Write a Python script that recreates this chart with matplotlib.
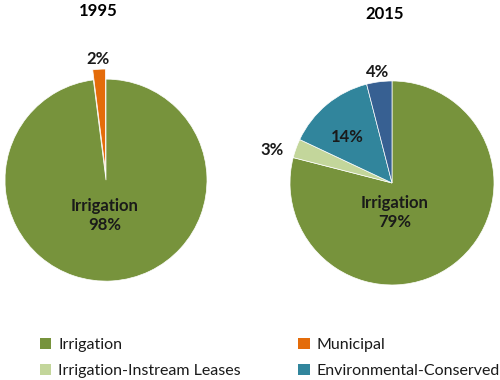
import matplotlib.pyplot as plt
from matplotlib.patches import Patch

plt.rcParams['font.family'] = ['Lato', 'DejaVu Sans']

# data
labels_1995 = ['Irrigation', 'Municipal']
values_1995 = [98, 2]
labels_2015 = ['Irrigation', 'Irrigation-Instream Leases', 'Environmental-Conserved', 'Municipal']
values_2015 = [79, 3, 14, 4]

colors = {
    'Irrigation': '#77933C',
    'Municipal': '#E46C0A',
    'Irrigation-Instream Leases': '#C3D69B',
    'Environmental-Conserved': '#31859C',
}
color_2015_small = '#376092'

fig = plt.figure(figsize=(5, 3.8), dpi=100)

# 1995 pie
ax1 = fig.add_axes([0.01, 0.26, 0.404, 0.532])
w1, _ = ax1.pie(values_1995, colors=[colors[l] for l in labels_1995],
                startangle=90, counterclock=False, explode=[0, 0.1],
                wedgeprops=dict(edgecolor='white', linewidth=0.5))
ax1.set_xlim(-1, 1)
ax1.set_ylim(-1, 1)
ax1.set_aspect('equal')
ax1.axis('off')
ax1.text(-0.01, -0.35, 'Irrigation\n%d%%' % values_1995[0], ha='center', va='center',
         fontsize=12, fontweight='bold', color='#1a1a1a', linespacing=1.25)
ax1.text(-0.08, 1.2, '%d%%' % values_1995[1], ha='center', va='center',
         fontsize=12, fontweight='bold', color='#1a1a1a')
ax1.text(-0.08, 1.67, '1995', ha='center', va='center', fontsize=12,
         fontweight='bold', clip_on=False)

# 2015 pie
ax2 = fig.add_axes([0.58, 0.25, 0.408, 0.537])
pie_colors = [colors[l] for l in labels_2015[:3]] + [color_2015_small]
w2, _ = ax2.pie(values_2015, colors=pie_colors, startangle=90, counterclock=False,
                wedgeprops=dict(edgecolor='white', linewidth=0.5))
ax2.set_xlim(-1, 1)
ax2.set_ylim(-1, 1)
ax2.set_aspect('equal')
ax2.axis('off')
lab_pos = [(0.03, -0.29), (-1.18, 0.32), (-0.44, 0.45), (-0.14, 1.09)]
for (x, y), v, l in zip(lab_pos, values_2015, labels_2015):
    txt = ('Irrigation\n%d%%' % v) if l == 'Irrigation' else '%d%%' % v
    ax2.text(x, y, txt, ha='center', va='center', fontsize=12,
             fontweight='bold', color='#1a1a1a', linespacing=1.25)
ax2.text(-0.07, 1.66, '2015', ha='center', va='center', fontsize=12,
         fontweight='bold', clip_on=False)

# legend
order = ['Irrigation', 'Irrigation-Instream Leases', 'Municipal', 'Environmental-Conserved']
handles = [Patch(facecolor=colors[l], label=l) for l in order]
fig.legend(handles=handles, ncol=2, loc='center', bbox_to_anchor=(0.54, 0.058),
           frameon=False, fontsize=11.5, handlelength=0.7, handleheight=0.7,
           handletextpad=0.45, columnspacing=3.6, labelspacing=0.75,
           labelcolor='#1a1a1a')

plt.savefig('out.png', dpi=100)
